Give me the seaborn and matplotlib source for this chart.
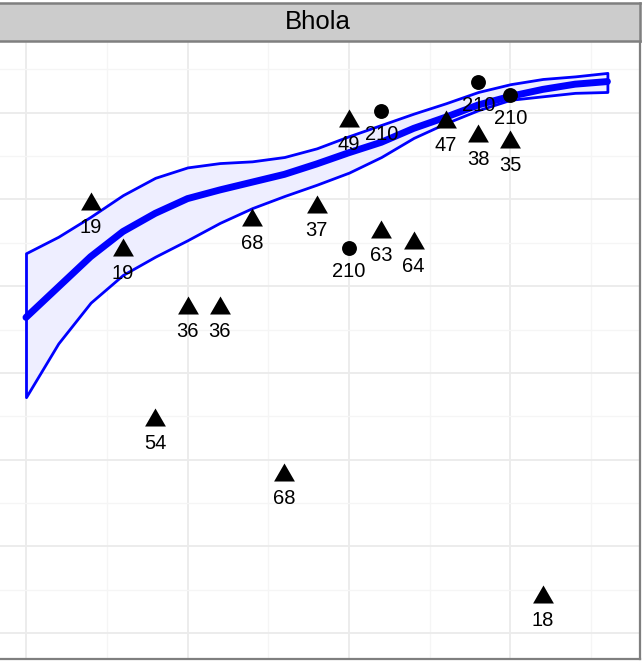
import matplotlib
matplotlib.use('Agg')
import matplotlib.pyplot as plt
import seaborn as sns
import pandas as pd
import numpy as np

# Fitted curve with confidence band
curve_x = [0, 1, 2, 3, 4, 5, 6, 7, 8, 9, 10, 11, 12, 13, 14, 15, 16, 17, 18]
curve_fit = [56.4, 59.9, 63.4, 66.3, 68.4, 70.1, 71.1, 72.0, 72.9, 74.1,
             75.4, 76.6, 78.2, 79.5, 80.9, 81.9, 82.7, 83.3, 83.6]
curve_upper = [63.8, 65.7, 68.0, 70.5, 72.5, 73.7, 74.2, 74.4, 74.9, 75.9,
               77.3, 78.6, 79.9, 81.1, 82.4, 83.3, 83.9, 84.2, 84.6]
curve_lower = [47.2, 53.4, 58.1, 61.3, 63.4, 65.3, 67.3, 69.0, 70.4, 71.7,
               73.1, 74.9, 77.1, 78.8, 80.3, 81.5, 81.9, 82.3, 82.4]

# Observed points (label = sample size)
tri_x = [2, 3, 4, 5, 6, 7, 8, 9, 10, 11, 12, 13, 14, 15, 16]
tri_y = [69.5, 64.2, 44.6, 57.5, 57.5, 67.6, 38.2, 69.1, 79.1, 66.3, 65.0,
         78.9, 77.3, 76.6, 24.2]
tri_n = [19, 19, 54, 36, 36, 68, 68, 37, 49, 63, 64, 47, 38, 35, 18]

circ_x = [10, 11, 14, 15]
circ_y = [64.4, 80.2, 83.6, 82.1]
circ_n = [210, 210, 210, 210]

panel_title = 'Bhola'

df_pts = pd.DataFrame({
    'x': tri_x + circ_x,
    'y': tri_y + circ_y,
    'n': tri_n + circ_n,
    'kind': ['tri'] * len(tri_x) + ['circ'] * len(circ_x),
})
df_curve = pd.DataFrame({'x': curve_x, 'fit': curve_fit,
                         'lo': curve_lower, 'hi': curve_upper})

sns.set_theme(style='white')
plt.rcParams['font.family'] = ['Liberation Sans', 'DejaVu Sans']

W, H = 644, 661
fig = plt.figure(figsize=(W / 100, H / 100), dpi=100)

ax = fig.add_axes([0, 2 / H, 640 / W, (659 - 41) / H])
ax.set_xlim(-26 / 32.3, (640 - 26) / 32.3)
ax.set_ylim(17.0, 88.28)

# grid
ax.set_xticks([0, 5, 10, 15])
ax.set_xticks([2.5, 7.5, 12.5, 17.5], minor=True)
ax.set_yticks(np.arange(20, 81, 10))
ax.set_yticks(np.arange(25, 86, 10), minor=True)
ax.grid(True, which='major', color='#EBEBEB', lw=1.3)
ax.grid(True, which='minor', color='#F5F5F5', lw=1.0)
ax.tick_params(which='both', length=0, labelbottom=False, labelleft=False)
ax.set_axisbelow(True)

ax.fill_between(df_curve['x'], df_curve['lo'], df_curve['hi'],
                facecolor='#EEEEFF', edgecolor='#0000FF', lw=2.0, zorder=2)
sns.lineplot(data=df_curve, x='x', y='fit', color='#0000FF', lw=5.0,
             ax=ax, zorder=3)

sns.scatterplot(data=df_pts[df_pts['kind'] == 'tri'], x='x', y='y',
                marker=(3, 0, 0), s=300, color='black', linewidth=0,
                ax=ax, zorder=4)
sns.scatterplot(data=df_pts[df_pts['kind'] == 'circ'], x='x', y='y',
                marker='o', s=115, color='black', linewidth=0,
                ax=ax, zorder=4)

for _, r in df_pts.iterrows():
    ax.annotate(str(r['n']), (r['x'], r['y']), xytext=(0, -17),
                textcoords='offset points', ha='center', va='center',
                fontsize=14.5, color='black', zorder=5)

ax.set_xlabel('')
ax.set_ylabel('')
for side in ['left', 'top']:
    ax.spines[side].set_visible(False)
for side in ['right', 'bottom']:
    ax.spines[side].set_color('#7F7F7F')
    ax.spines[side].set_linewidth(1.6)

# facet strip
strip = fig.add_axes([-0.02, 1 - 41 / H, 640 / W + 0.02, 38 / H])
strip.set_facecolor('#CCCCCC')
strip.set_xticks([])
strip.set_yticks([])
strip.spines['left'].set_visible(False)
for side in ['right', 'top', 'bottom']:
    strip.spines[side].set_color('#7F7F7F')
    strip.spines[side].set_linewidth(1.8)
fig.text(318 / W, 1 - 22 / H, panel_title, ha='center', va='center',
         fontsize=18.5, color='black')

fig.savefig('out.png', dpi=100)
